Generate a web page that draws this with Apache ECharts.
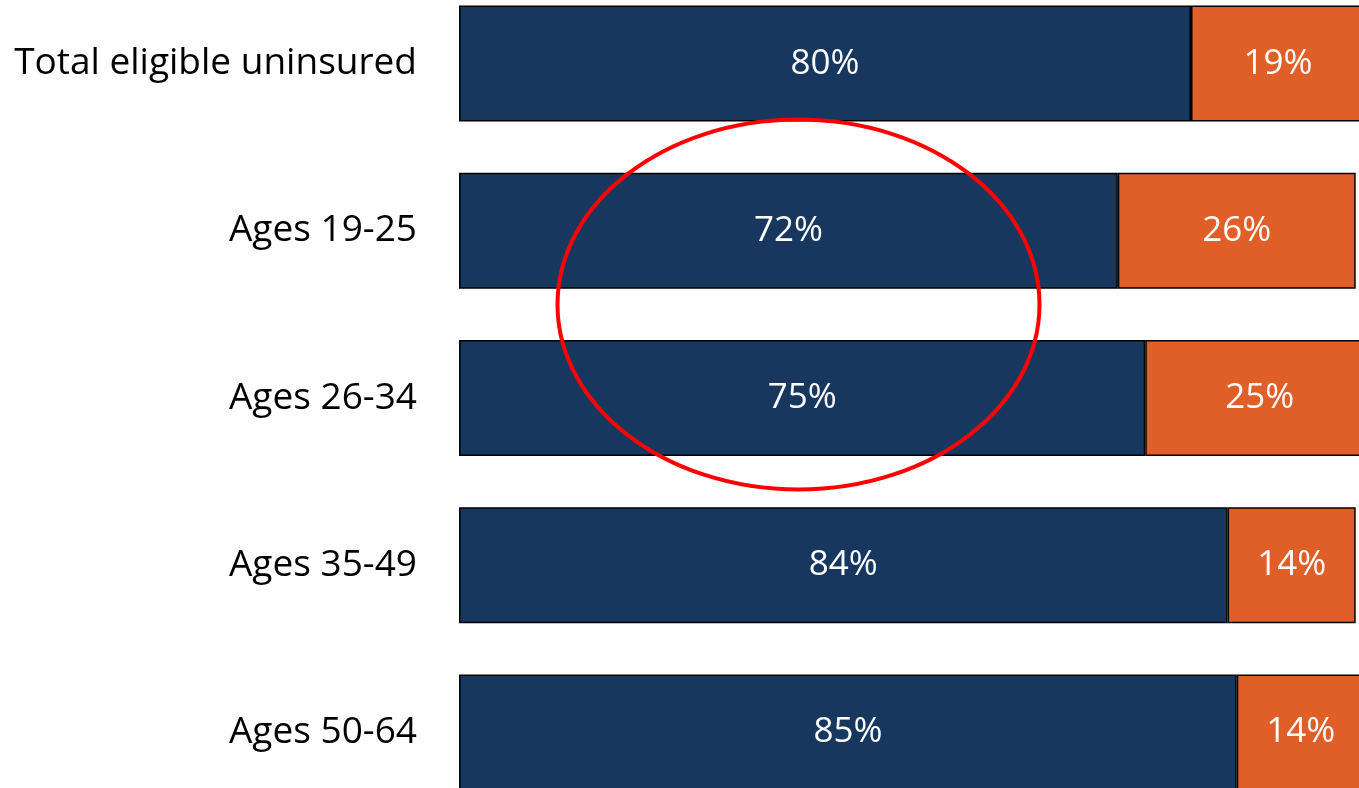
<!DOCTYPE html>
<html>
<head>
<meta charset="utf-8">
<script src="https://cdn.jsdelivr.net/npm/echarts@6/dist/echarts.min.js"></script>
<style>
  html, body { margin: 0; padding: 0; background: #fff; }
  #chart { width: 1359px; height: 788px; }
</style>
</head>
<body>
<div id="chart"></div>
<script>
const categories = ['Total eligible uninsured', 'Ages 19-25', 'Ages 26-34', 'Ages 35-49', 'Ages 50-64']
const firstShare = [80, 72, 75, 84, 85]
const secondShare = [19, 26, 25, 14, 14]

const chart = echarts.init(document.getElementById('chart'))
const font = '"Open Sans", sans-serif'

chart.setOption({
  backgroundColor: '#fff',
  animation: false,
  grid: { left: 459, width: 915, top: -20, height: 836, outerBoundsMode: 'none', containLabel: false },
  xAxis: { type: 'value', min: 0, max: 100, show: false },
  yAxis: {
    type: 'category',
    data: categories,
    inverse: true,
    axisLine: { show: false },
    axisTick: { show: false },
    axisLabel: { color: '#000', fontSize: 37, fontFamily: font, margin: 42 },
  },
  series: [
    {
      type: 'bar',
      stack: 'total',
      data: firstShare,
      barWidth: 116,
      itemStyle: { color: '#17375e', borderColor: '#000', borderWidth: 1.5 },
      label: { show: true, position: 'inside', formatter: '{c}%', color: '#fff', fontSize: 35, fontFamily: font },
    },
    {
      type: 'bar',
      stack: 'total',
      data: secondShare,
      barWidth: 116,
      itemStyle: { color: '#e05e28', borderColor: '#000', borderWidth: 1.5 },
      label: { show: true, position: 'inside', formatter: '{c}%', color: '#fff', fontSize: 35, fontFamily: font },
    },
  ],
  graphic: [
    {
      type: 'ellipse',
      z: 100,
      shape: { cx: 798.5, cy: 304.5, rx: 241, ry: 185 },
      style: { fill: 'none', stroke: '#ff0000', lineWidth: 4 },
    },
  ],
})
</script>
</body>
</html>
